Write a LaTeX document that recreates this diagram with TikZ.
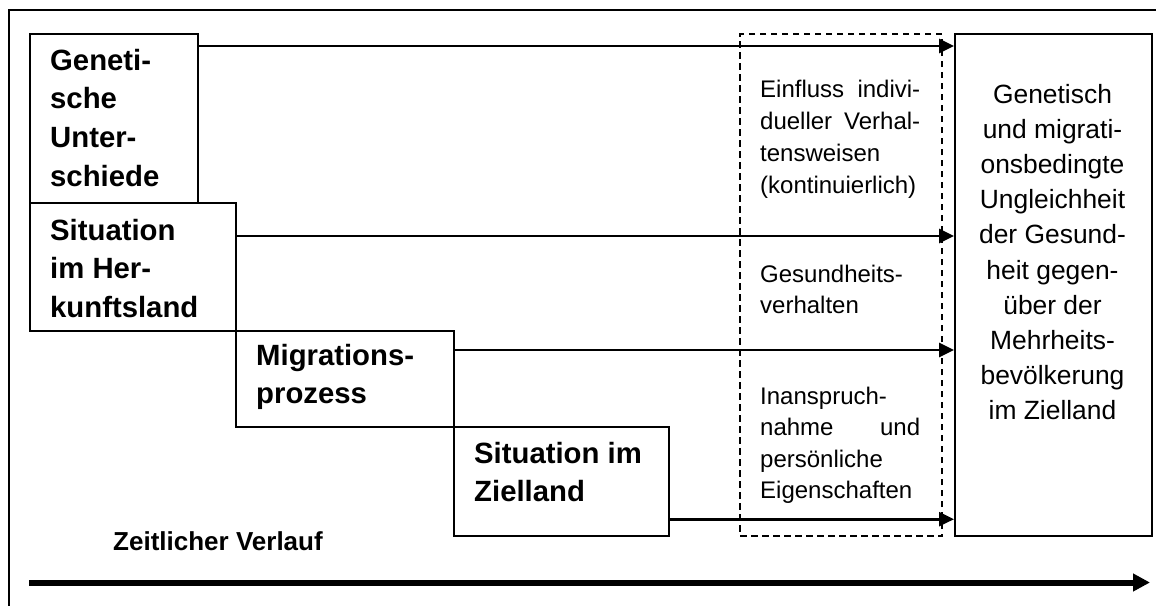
\documentclass[tikz,border=0pt]{standalone}
\usepackage{fontspec}
\setmainfont{Liberation Sans}
\usetikzlibrary{arrows.meta}
\newcommand\txtL[2]{\vtop{\baselineskip=#1\lineskiplimit=-\maxdimen\halign{##\hfil\cr#2\crcr}}}
\newcommand\txtC[2]{\vtop{\baselineskip=#1\lineskiplimit=-\maxdimen\halign{\hfil##\hfil\cr#2\crcr}}}
\tikzset{
  box/.style={draw, line width=2.2pt, rectangle, inner sep=0, anchor=north west},
  dbox/.style={draw, line width=2pt, dash pattern=on 6.5pt off 4.5pt, rectangle, inner sep=0, anchor=north west},
  arr/.style={line width=2.7pt, -{Triangle[length=15pt 0, width=14pt 0]}},
  bigarr/.style={line width=6pt, -{Triangle[length=17pt 0, width=17pt 0]}},
  boldtxt/.style={anchor=base west, inner sep=0, font=\fontsize{29.3}{38.7}\selectfont\bfseries},
  dtxt/.style={anchor=base west, inner sep=0, font=\fontsize{24}{32}\selectfont},
  rtxt/.style={anchor=base, inner sep=0, font=\fontsize{26.4}{35.2}\selectfont},
}
\begin{document}
\begin{tikzpicture}[x=1pt,y=-1pt]
\useasboundingbox (0,0) rectangle (1156,605);
\clip (0,0) rectangle (1156,605);
% outer frame
\draw[line width=2.2pt] (9,620) -- (9,10) -- (1170,10);
% boxes
\node[box, minimum width=168pt, minimum height=169pt] (g) at (29,33) {};
\node[box, minimum width=206pt, minimum height=128pt] (h) at (29,202) {};
\node[box, minimum width=218pt, minimum height=96pt] (m) at (235,330) {};
\node[box, minimum width=215pt, minimum height=109pt] (z) at (453,426) {};
\node[dbox, minimum width=202pt, minimum height=502pt] (d) at (739,33) {};
\node[box, minimum width=197pt, minimum height=502pt] (res) at (954,33) {};
% box texts
\node[boldtxt] (gt) at (50,70) {\txtL{38.7pt}{Geneti-\cr sche\cr Unter-\cr schiede}};
\node[boldtxt] (ht) at (50,240) {\txtL{38.7pt}{Situation\cr im Her-\cr kunftsland}};
\node[boldtxt] (mt) at (256,365) {\txtL{38.7pt}{Migrations-\cr prozess}};
\node[boldtxt] (zt) at (474,463) {\txtL{38.7pt}{Situation im\cr Zielland}};
% dashed box texts
\node[dtxt] (d1) at (760,97) {\txtL{32pt}{\makebox[160pt][s]{Einfluss indivi-}\cr \makebox[160pt][s]{dueller Verhal-}\cr tensweisen\cr (kontinuierlich)}};
\node[dtxt] (d2) at (760,282) {\txtL{31.5pt}{Gesundheits-\cr verhalten}};
\node[dtxt] (d3) at (760,404) {\txtL{31.5pt}{Inanspruch-\cr \makebox[160pt][s]{nahme und}\cr persönliche\cr Eigenschaften}};
% result text
\node[rtxt] (rt) at (1052.5,103) {\txtC{35.2pt}{Genetisch\cr und migrati-\cr onsbedingte\cr Ungleichheit\cr der Gesund-\cr heit gegen-\cr über der\cr Mehrheits-\cr bevölkerung\cr im Zielland}};
% arrows
\coordinate (s1) at ([yshift=-13pt]g.north east);
\coordinate (s2) at ([yshift=-34pt]h.north east);
\coordinate (s3) at ([yshift=-20pt]m.north east);
\coordinate (s4) at ([yshift=18pt]z.south east);
\draw[arr] (s1) -- (s1 -| res.west);
\draw[arr] (s2) -- (s2 -| res.west);
\draw[arr] (s3) -- (s3 -| res.west);
\draw[arr] (s4) -- (s4 -| res.west);
% time axis
\node[anchor=base west, inner sep=0, font=\fontsize{26}{30}\selectfont\bfseries] (zl) at (113,550) {Zeitlicher Verlauf};
\coordinate (t0) at (29,582.5);
\coordinate (t1) at (1150,582.5);
\draw[bigarr] (t0) -- (t1);
\end{tikzpicture}
\end{document}
